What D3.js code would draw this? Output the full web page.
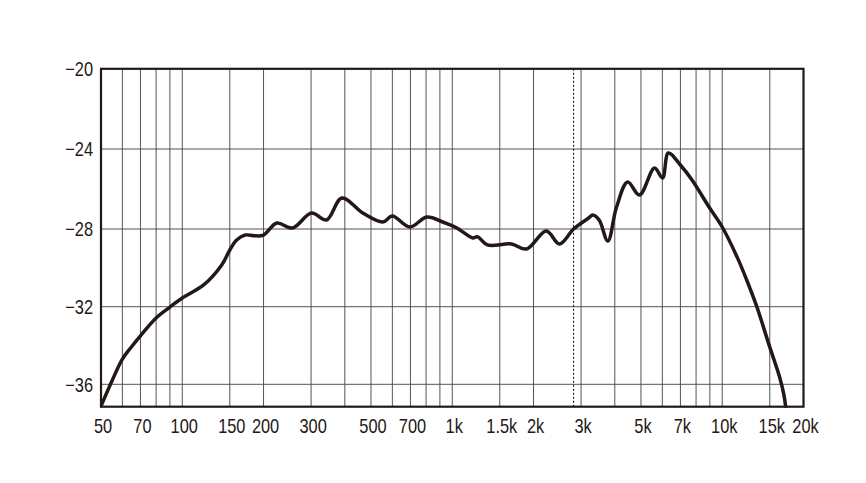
<!DOCTYPE html>
<html>
<head>
<meta charset="utf-8">
<script src="https://cdn.jsdelivr.net/npm/d3@7"></script>
<style>
  html, body { margin: 0; padding: 0; background: #ffffff; }
  svg { display: block; }
  text { font-family: "Liberation Sans", "DejaVu Sans", sans-serif; fill: #231815; }
</style>
</head>
<body>
<svg id="chart" width="866" height="483"></svg>
<script>
// ---- data ----
const freqs = [50, 55, 60, 65, 70, 80, 90, 100, 120, 140, 150, 159, 171, 185, 200, 224, 256, 301, 342, 390, 466, 553, 600, 697, 805, 922, 1040, 1190, 1240, 1350, 1657, 1885, 2230, 2495, 2815, 3200, 3316, 3500, 3770, 4060, 4464, 4935, 5614, 6010, 6316, 7000, 7730, 8935, 10000, 11400, 12300, 13430, 14980, 16290, 16900, 17200];
const levels = [-37.12, -35.8, -34.7, -34.05, -33.5, -32.58, -32.02, -31.55, -30.88, -29.85, -29.08, -28.57, -28.31, -28.35, -28.31, -27.7, -27.95, -27.2, -27.55, -26.45, -27.2, -27.65, -27.35, -27.9, -27.4, -27.65, -27.95, -28.46, -28.4, -28.82, -28.77, -29.03, -28.1, -28.77, -28.0, -27.45, -27.3, -27.55, -28.62, -26.9, -25.65, -26.3, -24.95, -25.45, -24.2, -24.8, -25.55, -26.9, -27.9, -29.5, -30.6, -32.0, -34.06, -35.6, -36.5, -37.2];
const xTickValues = [50, 70, 100, 150, 200, 300, 500, 700, 1000, 1500, 2000, 3000, 5000, 7000, 10000, 15000, 20000];
const xTickLabels = ["50", "70", "100", "150", "200", "300", "500", "700", "1k", "1.5k", "2k", "3k", "5k", "7k", "10k", "15k", "20k"];
const xGridValues = [60, 70, 80, 90, 100, 150, 200, 300, 400, 500, 600, 700, 800, 900, 1000, 1500, 2000, 3000, 4000, 5000, 6000, 7000, 8000, 9000, 10000, 15000];
const yTickValues = [-20, -24, -28, -32, -36];
const yTickLabels = ["\u221220", "\u221224", "\u221228", "\u221232", "\u221236"];
const markerFreq = [2815];

// ---- layout ----
const pLeft = 101, pRight = 803.5, pTop = 68.8, pBottom = 406.7;
const ink = "#231815";
const squeeze = 0.82;

const x = d3.scaleLog().domain([50, 20000]).range([pLeft, pRight]);
const y = d3.scaleLinear()
  .domain([-37.15, -36, -32, -28, -24, -20])
  .range([pBottom, 384.3, 306.7, 229, 149, pTop]);

const svg = d3.select("#chart");

// vertical grid
svg.append("g").selectAll("line").data(xGridValues).join("line")
  .attr("x1", d => x(d)).attr("x2", d => x(d))
  .attr("y1", pTop).attr("y2", pBottom)
  .attr("stroke", "#555").attr("stroke-width", 1);

// horizontal grid
svg.append("g").selectAll("line").data(yTickValues.slice(1)).join("line")
  .attr("x1", pLeft).attr("x2", pRight)
  .attr("y1", d => y(d)).attr("y2", d => y(d))
  .attr("stroke", "#555").attr("stroke-width", 1);

// dashed marker
svg.append("g").selectAll("line").data(markerFreq).join("line")
  .attr("x1", d => x(d)).attr("x2", d => x(d))
  .attr("y1", pTop).attr("y2", pBottom)
  .attr("stroke", "#000").attr("stroke-width", 1)
  .attr("stroke-dasharray", "2,2");

// frame
svg.append("rect")
  .attr("x", pLeft).attr("y", pTop)
  .attr("width", pRight - pLeft).attr("height", pBottom - pTop)
  .attr("fill", "none").attr("stroke", ink).attr("stroke-width", 2.2);

// curve
const data = freqs.map((f, i) => ({ f, v: levels[i] }));
const line = d3.line().x(d => x(d.f)).y(d => y(d.v)).curve(d3.curveCatmullRom.alpha(0.5));
svg.append("defs").append("clipPath").attr("id", "clip")
  .append("rect").attr("x", pLeft).attr("y", pTop).attr("width", pRight - pLeft).attr("height", pBottom - pTop + 1);
svg.append("path").datum(data)
  .attr("d", line)
  .attr("clip-path", "url(#clip)")
  .attr("fill", "none").attr("stroke", ink)
  .attr("stroke-width", 3.5).attr("stroke-linejoin", "round").attr("stroke-linecap", "round");

// y labels
svg.append("g").selectAll("text").data(yTickValues).join("text")
  .attr("transform", d => `translate(93,${y(d)}) scale(${squeeze},1)`)
  .attr("dy", "0.36em")
  .attr("text-anchor", "end")
  .attr("font-size", 20)
  .text((d, i) => yTickLabels[i]);

// x labels
svg.append("g").selectAll("text").data(xTickValues).join("text")
  .attr("transform", d => `translate(${x(d) + 2},433) scale(${squeeze},1)`)
  .attr("text-anchor", "middle")
  .attr("font-size", 20)
  .text((d, i) => xTickLabels[i]);
</script>
</body>
</html>
